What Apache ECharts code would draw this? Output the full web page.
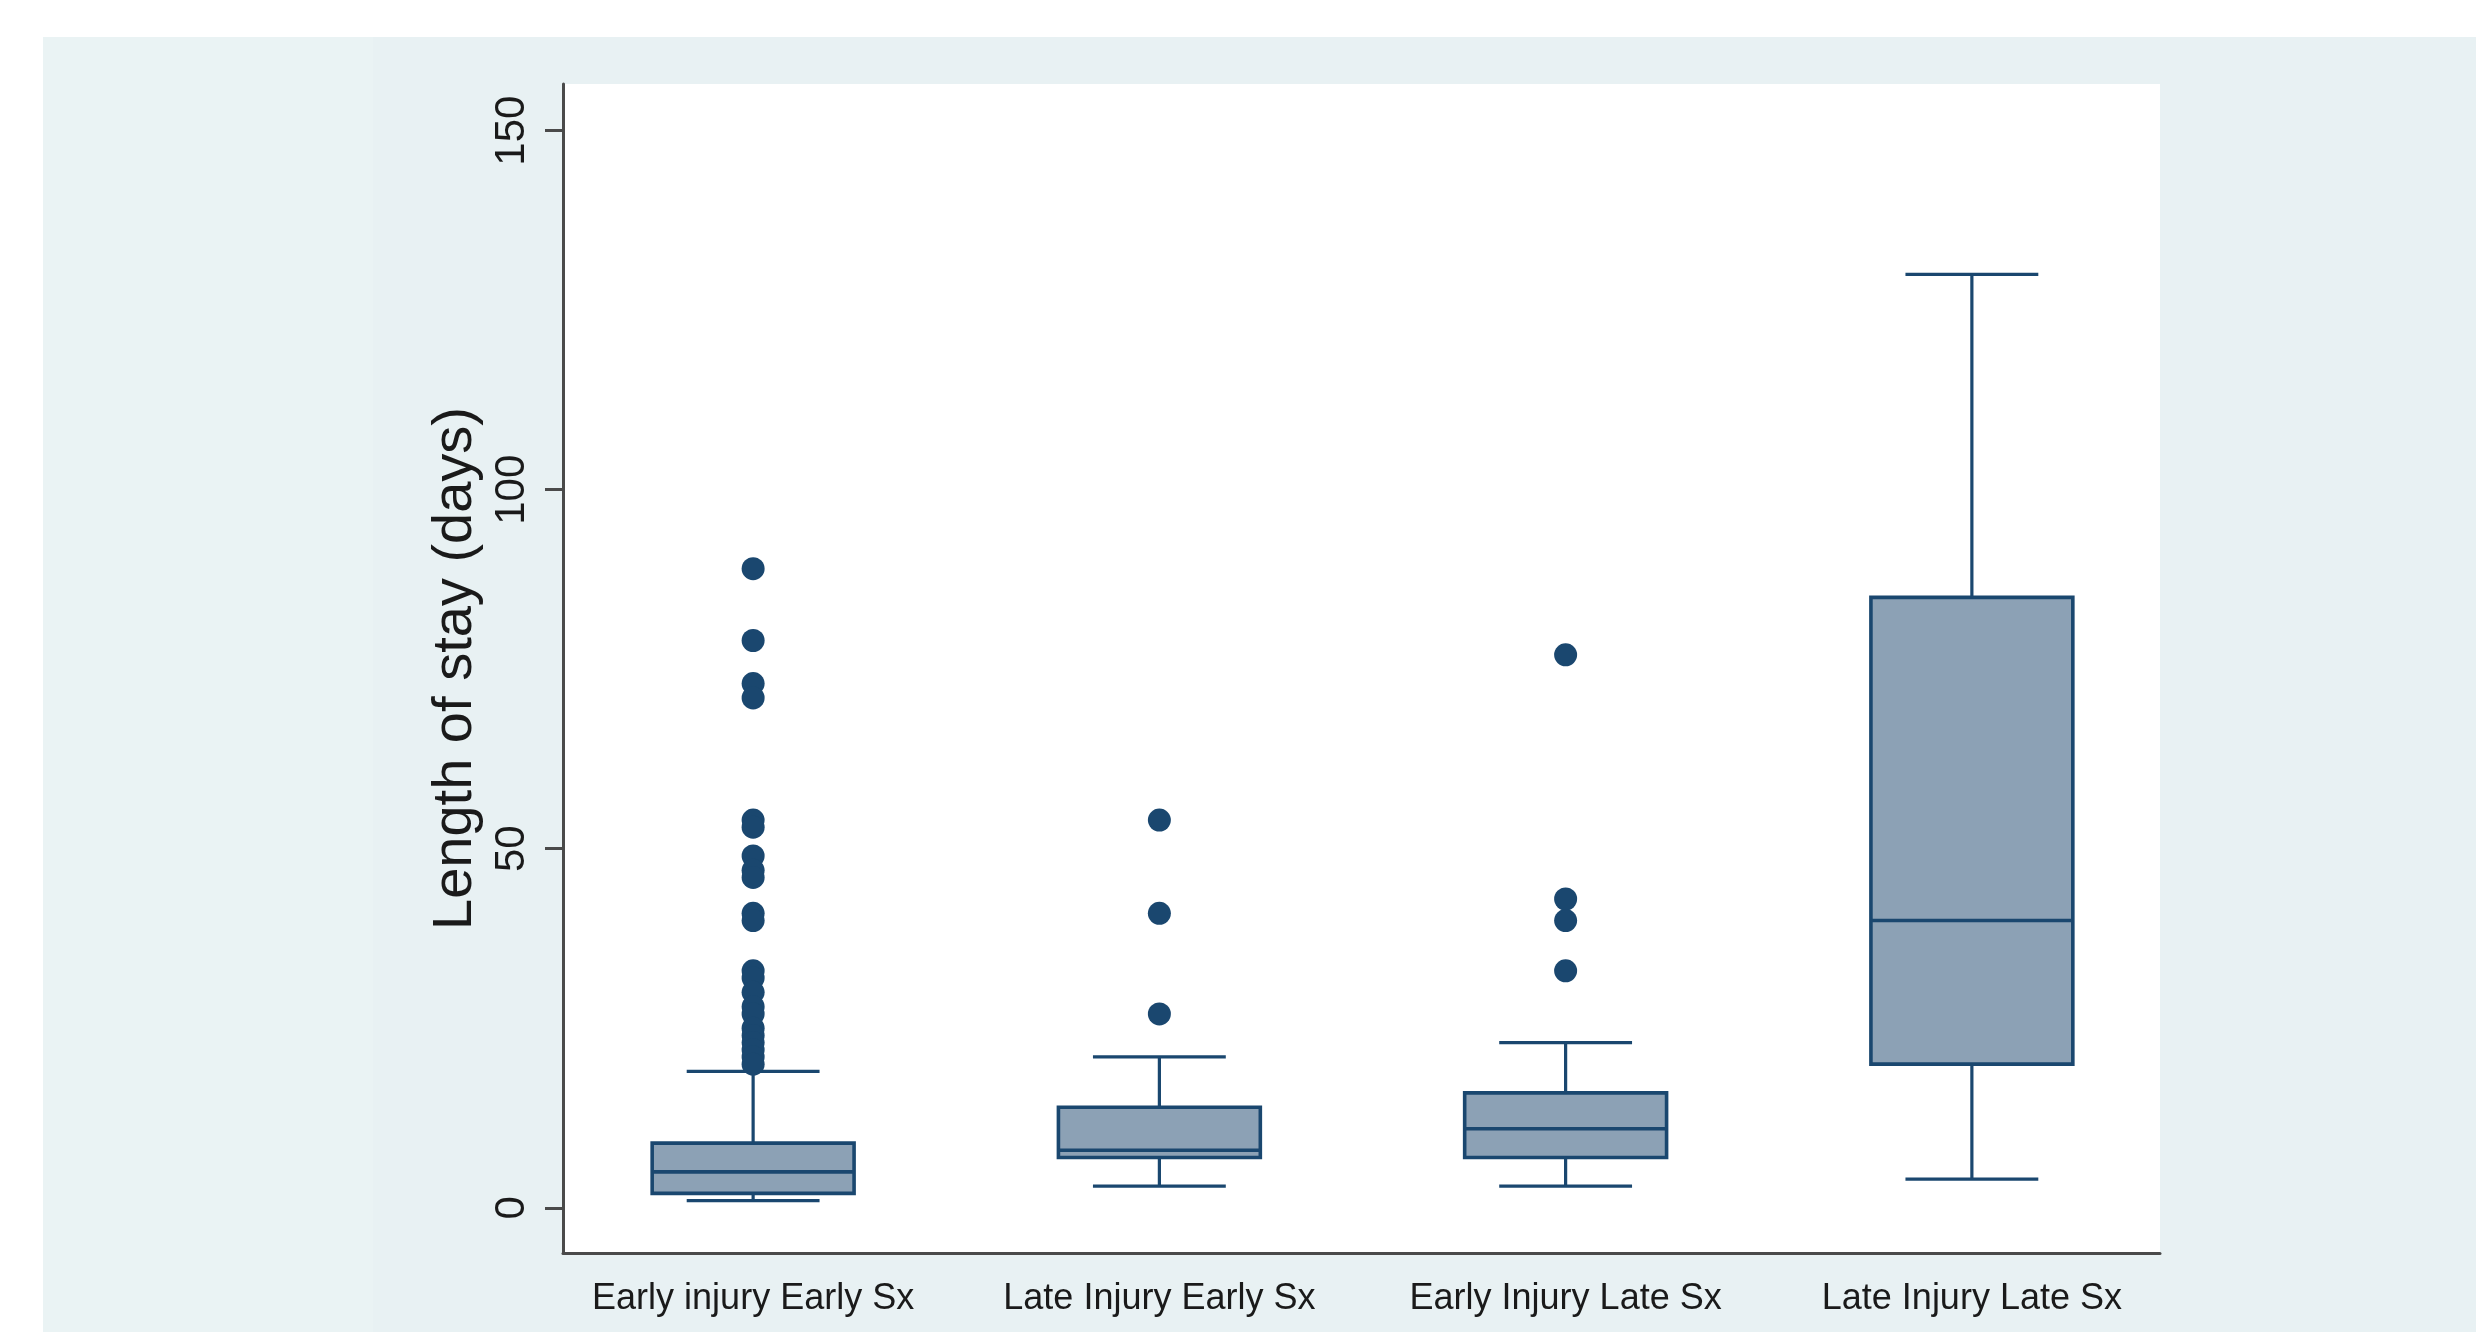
<!DOCTYPE html>
<html>
<head>
<meta charset="utf-8">
<script src="https://cdn.jsdelivr.net/npm/echarts@6/dist/echarts.min.js"></script>
<style>
html,body{margin:0;padding:0;background:#fff;}
#chart{width:2476px;height:1332px;}
</style>
</head>
<body>
<div id="chart"></div>
<script>
// ---- data ----
const categories = ['Early injury Early Sx', 'Late Injury Early Sx', 'Early Injury Late Sx', 'Late Injury Late Sx'];
const lowerWhisker = [1, 3, 3, 4];
const q1Values = [2, 7, 7, 20];
const medianValues = [5, 8, 11, 40];
const q3Values = [9, 14, 16, 85];
const upperWhisker = [19, 21, 23, 130];
const outliers1 = [89, 79, 73, 71, 54, 53, 49, 47, 46, 41, 40, 33, 32, 30, 28, 27, 25, 24, 23, 22, 21, 20];
const outliers2 = [54, 41, 27];
const outliers3 = [77, 43, 40, 33];
const outliers4 = [];
const yTicks = [0, 50, 100, 150];
const yTitle = 'Length of stay (days)';

// ---- build series data ----
const allOutliers = [outliers1, outliers2, outliers3, outliers4];
const boxData = categories.map((c, i) => [i, lowerWhisker[i], q1Values[i], medianValues[i], q3Values[i], upperWhisker[i]]);
const outlierData = [];
allOutliers.forEach((arr, i) => arr.forEach(v => outlierData.push([i, v])));

const NAVY = '#1a476f';
const FILL = '#8ca1b5';
const FONT = '"Liberation Sans", Arial, sans-serif';
const BOX_RATIO = 0.497;
const CAP_RATIO = 0.327;

function renderBox(params, api) {
  const idx = api.value(0);
  const band = api.size([1, 0])[0];
  const hb = band * BOX_RATIO / 2;
  const hc = band * CAP_RATIO / 2;
  const pLow = api.coord([idx, api.value(1)]);
  const pQ1 = api.coord([idx, api.value(2)]);
  const pMed = api.coord([idx, api.value(3)]);
  const pQ3 = api.coord([idx, api.value(4)]);
  const pHigh = api.coord([idx, api.value(5)]);
  const x = pMed[0];
  const ls = {stroke: NAVY, lineWidth: 3.2};
  return {
    type: 'group',
    children: [
      {type: 'line', shape: {x1: x, y1: pQ3[1], x2: x, y2: pHigh[1]}, style: ls},
      {type: 'line', shape: {x1: x, y1: pQ1[1], x2: x, y2: pLow[1]}, style: ls},
      {type: 'line', shape: {x1: x - hc, y1: pHigh[1], x2: x + hc, y2: pHigh[1]}, style: ls},
      {type: 'line', shape: {x1: x - hc, y1: pLow[1], x2: x + hc, y2: pLow[1]}, style: ls},
      {type: 'rect', shape: {x: x - hb, y: pQ3[1], width: hb * 2, height: pQ1[1] - pQ3[1]},
        style: {fill: FILL, stroke: NAVY, lineWidth: 3.6}},
      {type: 'line', shape: {x1: x - hb, y1: pMed[1], x2: x + hb, y2: pMed[1]}, style: {stroke: NAVY, lineWidth: 3.6}}
    ]
  };
}

const chart = echarts.init(document.getElementById('chart'), null, {renderer: 'canvas'});
const Y_MIN = -6.3, Y_MAX = 156.5;

chart.setOption({
  animation: false,
  backgroundColor: '#ffffff',
  graphic: [
    {type: 'rect', z: -10, left: 43, top: 37, shape: {width: 2476 - 43, height: 1332 - 37}, style: {fill: '#e8f1f3'}},
    {type: 'rect', z: -9, left: 43, top: 37, shape: {width: 330, height: 1332 - 37}, style: {fill: '#eaf3f4'}}
  ],
  grid: [
    {left: 563, right: 316, top: 84, bottom: 79, show: true, backgroundColor: '#ffffff', borderWidth: 0, containLabel: false},
    {left: 550, right: 301, top: 84, bottom: 79, containLabel: false}
  ],
  xAxis: [
    {type: 'category', gridIndex: 0, data: categories,
      axisLine: {show: true, onZero: false, lineStyle: {color: '#4a4a4a', width: 3}},
      axisTick: {show: false}, axisLabel: {show: false}, splitLine: {show: false}},
    {type: 'category', gridIndex: 1, data: categories,
      axisLine: {show: false, onZero: false}, axisTick: {show: false}, splitLine: {show: false},
      axisLabel: {show: true, interval: 0, margin: 28, fontSize: 36, fontFamily: FONT, color: '#1a1a1a'}}
  ],
  yAxis: [
    {type: 'value', gridIndex: 0, min: Y_MIN, max: Y_MAX,
      axisLine: {show: true, onZero: false, lineStyle: {color: '#4a4a4a', width: 3}},
      axisTick: {show: true, length: 18, customValues: yTicks, lineStyle: {color: '#4a4a4a', width: 3}},
      axisLabel: {show: true, customValues: yTicks, rotate: 90, margin: 30, fontSize: 42, fontFamily: FONT, color: '#1a1a1a'},
      splitLine: {show: false},
      name: yTitle, nameLocation: 'middle', nameRotate: 90, nameGap: 72,
      nameTextStyle: {fontSize: 56, fontFamily: FONT, color: '#1a1a1a'}},
    {type: 'value', gridIndex: 1, min: Y_MIN, max: Y_MAX, show: false}
  ],
  series: [
    {type: 'custom', xAxisIndex: 1, yAxisIndex: 1, renderItem: renderBox, data: boxData, z: 3,
      encode: {x: 0, y: [1, 2, 3, 4, 5]}},
    {type: 'scatter', xAxisIndex: 1, yAxisIndex: 1, data: outlierData, symbol: 'circle', symbolSize: 23,
      itemStyle: {color: NAVY, opacity: 1}, z: 4}
  ]
});
</script>
</body>
</html>
